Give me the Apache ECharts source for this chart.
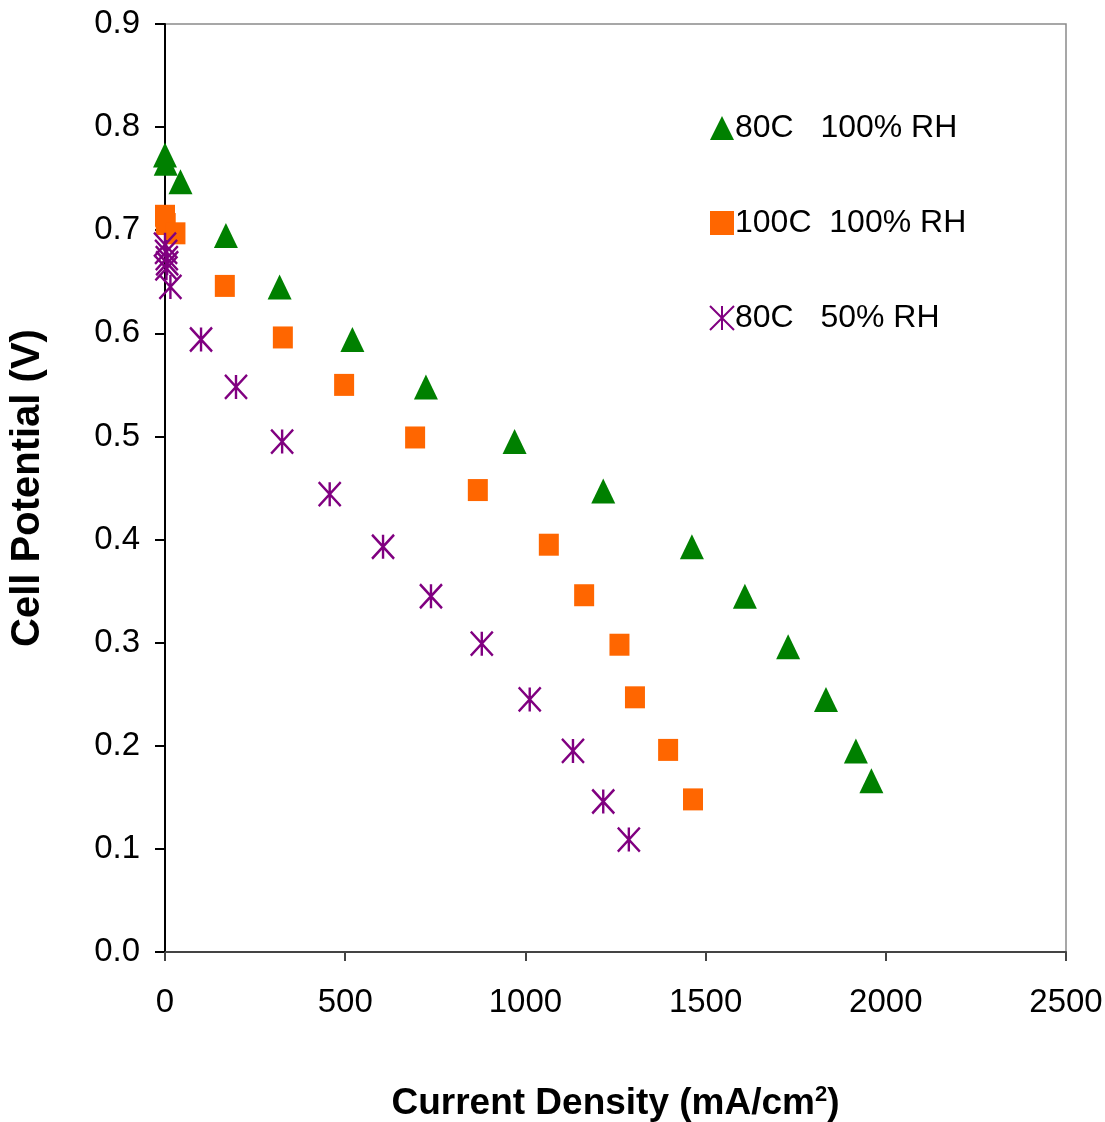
<!DOCTYPE html>
<html><head><meta charset="utf-8">
<script src="https://cdn.jsdelivr.net/npm/echarts@6/dist/echarts.min.js"></script>
<style>html,body{margin:0;padding:0;background:#fff}#c{width:1105px;height:1122px}</style>
</head><body><div id="c"></div>
<script>
var seriesNames = ['80C   100% RH', '100C  100% RH', '80C   50% RH'];
var green80x = [0, 2, 43, 169, 318, 520, 724, 970, 1216, 1462, 1609, 1729, 1834, 1917, 1960];
var green80y = [0.773, 0.765, 0.747, 0.695, 0.645, 0.594, 0.548, 0.495, 0.447, 0.393, 0.345, 0.296, 0.245, 0.195, 0.166];
var orange100x = [0, 2, 29, 166, 327, 497, 694, 868, 1065, 1163, 1261, 1304, 1396, 1465];
var orange100y = [0.714, 0.706, 0.697, 0.646, 0.596, 0.550, 0.499, 0.448, 0.395, 0.346, 0.298, 0.247, 0.196, 0.148];
var purple50x = [0, 3, 5, 6, 4, 15, 100, 197, 325, 457, 605, 738, 879, 1012, 1132, 1216, 1287];
var purple50y = [0.686, 0.679, 0.673, 0.668, 0.663, 0.645, 0.594, 0.548, 0.495, 0.444, 0.393, 0.345, 0.299, 0.245, 0.195, 0.146, 0.109];
var xTicks = [0, 500, 1000, 1500, 2000, 2500];
var yTicks = [0.0, 0.1, 0.2, 0.3, 0.4, 0.5, 0.6, 0.7, 0.8, 0.9];

function pairs(xs, ys){ return xs.map(function(x,i){ return [x, ys[i]]; }); }
var asterisk = 'path://M0,0L10,10M10,0L0,10M5,0L5,10';
var font = 'Liberation Sans, Arial, sans-serif';

var chart = echarts.init(document.getElementById('c'), null, {renderer:'canvas'});
chart.setOption({
  animation: false,
  backgroundColor: '#fff',
  grid: {left: 165, right: 39, top: 24, bottom: 170, show: true, borderColor: '#8a8a8a', borderWidth: 1.5,
         containLabel: false, outerBoundsMode: 'none'},
  legend: {
    orient: 'vertical', left: 704, top: 107, itemGap: 63, itemWidth: 24, itemHeight: 24,
    textStyle: {fontFamily: font, fontSize: 32, color: '#000', padding: [0,0,0,-4]},
    data: seriesNames
  },
  xAxis: {
    type: 'value', min: xTicks[0], max: xTicks[xTicks.length-1], interval: 500,
    axisLine: {show: true, onZero: false, lineStyle: {color: '#444', width: 2}},
    axisTick: {show: true, length: 9, lineStyle: {color: '#444', width: 2}},
    splitLine: {show: false},
    axisLabel: {fontFamily: font, fontSize: 33, color: '#000', margin: 34,
      formatter: function(v){ return String(v); }},
    name: '{a|Current Density (mA/cm}{s|2}{a|)}', nameLocation: 'middle', nameGap: 132,
    nameTextStyle: {rich: {
      a: {fontFamily: font, fontSize: 37, fontWeight: 'bold', color: '#000'},
      s: {fontFamily: font, fontSize: 22, fontWeight: 'bold', color: '#000', padding: [0,0,18,0]}
    }}
  },
  yAxis: {
    type: 'value', min: yTicks[0], max: yTicks[yTicks.length-1], interval: 0.1,
    axisLine: {show: true, onZero: false, lineStyle: {color: '#000', width: 2}},
    axisTick: {show: true, length: 10, lineStyle: {color: '#000', width: 2}},
    splitLine: {show: false},
    axisLabel: {fontFamily: font, fontSize: 33, color: '#000', margin: 25,
      formatter: function(v){ return v.toFixed(1); }},
    name: 'Cell Potential (V)', nameLocation: 'middle', nameGap: 117,
    nameTextStyle: {fontFamily: font, fontSize: 40, fontWeight: 'bold', color: '#000'}
  },
  series: [
    {name: seriesNames[0], type: 'scatter', symbol: 'triangle', symbolSize: [24, 25],
     itemStyle: {color: '#008000', opacity: 1}, data: pairs(green80x, green80y)},
    {name: seriesNames[1], type: 'scatter', symbol: 'rect', symbolSize: [20, 22],
     itemStyle: {color: '#ff6600', opacity: 1}, data: pairs(orange100x, orange100y)},
    {name: seriesNames[2], type: 'scatter', symbol: asterisk, symbolSize: [22, 24],
     itemStyle: {color: 'rgba(0,0,0,0)', borderColor: '#800080', borderWidth: 2.5, opacity: 1},
     data: pairs(purple50x, purple50y)}
  ]
});
</script></body></html>
